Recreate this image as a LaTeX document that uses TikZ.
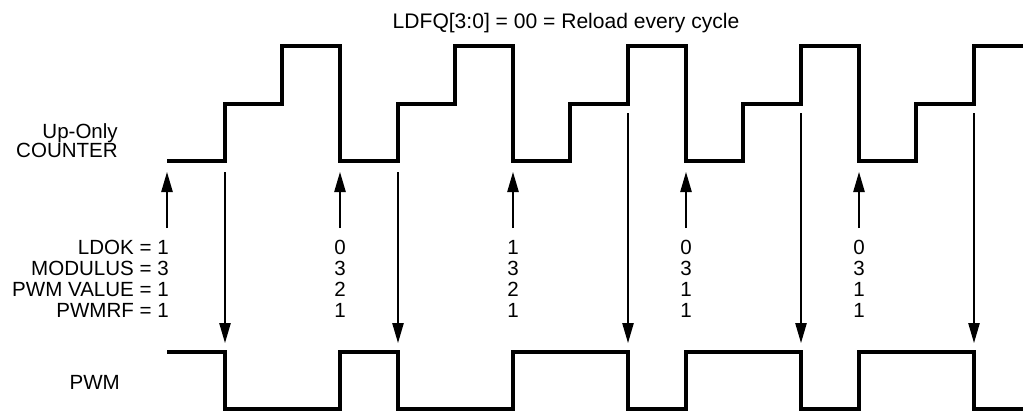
\documentclass[tikz,border=0pt]{standalone}
\usepackage{fontspec}
\setmainfont{Liberation Sans}
\usetikzlibrary{positioning, arrows.meta}

\begin{document}
\begin{tikzpicture}[
                x=0.75pt, y=-0.75pt,
                signal/.style={line width=2.4pt, line join=miter},
                marker/.style={line width=1.1pt, -{Triangle[length=15pt, width=8.5pt]}},
                txt/.style={inner sep=0pt, font=\fontsize{15.4}{15.75}\selectfont},
                vals/.style={txt, inner ysep=9pt, anchor=north, align=center}
            ]
            \useasboundingbox (0,0) rectangle (1023,411);

            % Beschriftungen
            \node[txt, anchor=base, font=\fontsize{15.8}{16}\selectfont] (title) at (566,28) {LDFQ[3:0] = 00 = Reload every cycle};
            \node[txt, anchor=base east] (upo) at (118,138) {Up-Only};
            \node[txt, anchor=base east] (cnt) at (118,157) {COUNTER};
            \node[txt, anchor=base east] (pwm) at (120,389) {PWM};

            \node[vals, anchor=north east, align=right] (lbl) at (169,228) {LDOK = 1\\MODULUS = 3\\PWM VALUE = 1\\PWMRF = 1};
            \node[vals] (v1) at (340,228) {0\\3\\2\\1};
            \node[vals] (v2) at (513,228) {1\\3\\2\\1};
            \node[vals] (v3) at (686,228) {0\\3\\1\\1};
            \node[vals] (v4) at (859,228) {0\\3\\1\\1};

            % Zaehler und PWM
            \draw[signal] (167,161) -| (225,104) -| (282,46) -| (340,161) -| (398,104) -| (455,46)
                -| (513,161) -| (570,104) -| (628,46) -| (686,161) -| (743,104) -| (801,46)
                -| (859,161) -| (916,104) -| (974,46) -- (1023,46);

            \draw[signal] (167,352) -| (225,409) -| (340,352) -| (398,409) -| (513,352) -| (628,409)
                -| (686,352) -| (801,409) -| (859,352) -| (974,409) -- (1023,409);

            % Nachladen
            \coordinate (rl0) at (167,172);
            \coordinate (rl1) at (340,172);
            \coordinate (rl2) at (513,172);
            \coordinate (rl3) at (686,172);
            \coordinate (rl4) at (859,172);

            \draw[marker] (lbl.north -| rl0) -- (rl0);
            \draw[marker] (v1.north) -- (rl1);
            \draw[marker] (v2.north) -- (rl2);
            \draw[marker] (v3.north) -- (rl3);
            \draw[marker] (v4.north) -- (rl4);

            % Vergleich
            \coordinate (cp1) at (225,172);
            \coordinate (cp2) at (398,172);
            \coordinate (cp3) at (628,113);
            \coordinate (cp4) at (801,113);
            \coordinate (cp5) at (974,113);
            \coordinate (pw1) at (225,343);
            \coordinate (pw2) at (398,343);
            \coordinate (pw3) at (628,343);
            \coordinate (pw4) at (801,343);
            \coordinate (pw5) at (974,343);

            \draw[marker] (cp1) -- (pw1);
            \draw[marker] (cp2) -- (pw2);
            \draw[marker] (cp3) -- (pw3);
            \draw[marker] (cp4) -- (pw4);
            \draw[marker] (cp5) -- (pw5);

        \end{tikzpicture}
\end{document}
